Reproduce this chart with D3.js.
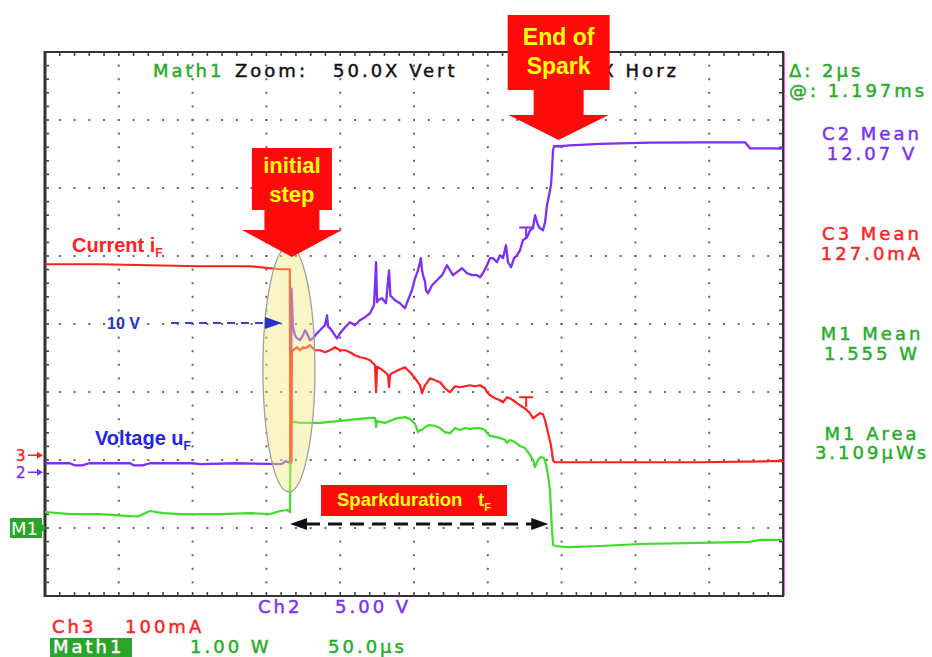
<!DOCTYPE html>
<html>
<head>
<meta charset="utf-8">
<script src="https://cdn.jsdelivr.net/npm/d3@7"></script>
<style>
  body { margin: 0; background: #fff; }
  svg { display: block; }
</style>
</head>
<body>
<svg id="scope" width="932" height="657"></svg>
<script>
// ---- scope settings ----
const timeDomain = [0, 500];        // µs  (10 div x 50 µs)
const divDomain = [-4, 4];          // vertical divisions
const ch2Setting = [5, -2.18];      // V/div, ground offset (div)
const ch3Setting = [100, -1.93];    // mA/div, ground offset (div)
const math1Setting = [20, -3.0];    // mW/div (1.00 W, zoom 50X), ground offset (div)

// ---- traces: [time µs, value] ----
const ch2Voltage = [
  [0,0.66],[16.9,0.66],[20,0.51],[25,0.51],[30,0.66],[57.6,0.66],[60,0.51],[66,0.51],[71,0.66],
  [100,0.66],[105,0.59],[130,0.66],[160,0.59],[163,0.81],[165.3,0.73],[166.6,0.66],[167.0,13.5],
  [168.0,10.66],[169.4,10.07],[170.7,9.85],[172.8,9.71],[174.8,10.07],[176.2,10.44],[177.5,10.22],
  [179.5,9.71],[181.6,9.85],[184.3,10.22],[186.3,10.44],[189.7,10.81],[191.1,11.54],[191.8,10.7],
  [193.1,10.59],[195.1,10.29],[197.8,9.85],[199.9,10.22],[203.3,10.66],[206.6,11.03],[210.0,10.81],
  [213.4,11.18],[216.8,11.40],[220.2,11.69],[222.9,12.28],[224.3,15.44],[225.0,12.5],[225.6,12.65],
  [228.3,12.79],[231.0,12.43],[233.1,14.85],[234.0,13.0],[237.1,12.65],[240.5,12.43],[243.9,12.06],
  [245.9,12.65],[248.6,13.38],[250.7,14.26],[252.7,14.85],[254.7,15.74],[255.4,14.9],[256.1,14.49],
  [257.5,14.0],[258.1,13.38],[259.5,13.16],[262.2,13.75],[265.6,14.12],[269.0,14.49],[272.4,15.22],
  [274.4,14.85],[276.4,14.49],[279.1,14.71],[282.5,15.0],[286.0,14.63],[289.3,14.49],[292.7,14.49],
  [294.7,14.34],[296.7,14.63],[299.5,15.22],[301.5,15.74],[303.5,15.74],[306.2,15.44],[308.3,15.96],
  [310.3,15.74],[312.3,16.69],[313.7,15.44],[315.7,15.07],[317.8,15.74],[319.8,15.96],[321.8,16.32],
  [323.8,17.06],[326.6,17.28],[328.6,17.79],[330.6,17.94],[332.0,18.90],[334.0,18.16],[335.4,17.94],
  [337.4,17.79],[338.8,18.38],[340.1,19.63],[341.5,20.37],[342.8,21.10],[343.5,22.21],[344.2,23.68],
  [344.9,23.97],[348.9,23.97],[355.7,24.04],[376.0,24.15],[409.9,24.23],[443.8,24.26],[474.3,24.26],
  [477.6,23.82],[481.0,23.82],[491.2,23.82],[500,23.79]
];

const ch3Current = [
  [0,280.9],[37.3,280.9],[71.1,279.4],[105,277.9],[138.9,277.9],[152.4,275.0],[159.2,273.5],
  [165.9,273.5],[166.2,-8.8],[167.0,-8.8],[167.3,150],[168.0,154.4],[170.7,158.8],[172.8,154.4],
  [174.8,158.8],[176.2,157.4],[179.5,161.8],[182.9,154.4],[186.3,154.4],[189.7,151.5],[193.1,154.4],
  [196.5,158.8],[199.9,154.4],[203.3,154.4],[206.6,151.5],[210.0,147.1],[213.4,144.1],[216.8,142.6],
  [220.2,139.7],[223.6,132.4],[224.3,92.6],[225.0,130],[227.0,127.9],[230.4,122.1],[232.4,117.6],
  [233.1,100.0],[233.8,118],[235.1,120.6],[239.2,125.0],[243.9,129.4],[247.3,122.1],[250.7,113.2],
  [254.1,102.9],[255.4,91.2],[257.5,102.9],[260.8,113.2],[264.2,110.3],[267.6,107.4],[271.0,98.5],
  [274.4,92.6],[277.8,101.5],[281.2,100.0],[284.6,101.5],[287.9,102.9],[291.3,101.5],[294.7,102.9],
  [298.1,98.5],[299.5,92.6],[301.5,88.2],[304.9,83.8],[308.3,80.9],[310.3,77.9],[313.0,85.3],
  [315.0,83.8],[317.1,80.9],[319.1,77.9],[321.8,73.5],[323.8,70.6],[326.6,66.2],[328.6,61.8],
  [330.6,54.4],[333.3,58.8],[335.4,61.8],[337.4,60.3],[338.8,51.5],[340.1,39.7],[341.5,26.5],
  [342.8,14.7],[344.2,-7.4],[345.5,-10.3],[376,-10.3],[443.8,-10.3],[491.2,-8.8],[500,-8.8]
];

const math1Power = [
  [0,4.7],[16.9,4.1],[37.3,4.1],[57.6,3.5],[63,3.4],[71.1,5.0],[80,4.4],[91.5,4.1],[118.6,4.1],
  [138.9,4.4],[152.4,4.1],[159.2,5.0],[164.0,5.3],[166.0,4.7],[166.6,42.6],[167.6,31.2],[169.4,31.2],
  [172.8,30.9],[179.5,30.9],[186.3,30.9],[193.1,31.2],[199.9,31.5],[206.6,31.8],[213.4,32.1],
  [220.2,32.4],[223.6,32.4],[224.3,29.7],[225.0,31.5],[227.0,31.2],[230.4,30.9],[233.7,31.5],
  [237.1,32.1],[240.5,32.4],[243.9,32.6],[247.3,32.1],[250.7,30.6],[252.7,28.2],[254.1,28.8],
  [255.4,28.8],[257.5,29.7],[260.8,30.3],[264.2,30.0],[267.6,29.4],[271.0,28.2],[274.4,27.9],
  [277.8,29.4],[281.2,28.8],[284.6,29.4],[287.9,29.1],[291.3,29.4],[294.7,29.4],[298.1,28.8],
  [299.5,27.9],[301.5,27.1],[304.9,26.8],[308.3,26.5],[311.7,25.9],[313.0,25.0],[315.0,25.9],
  [318.4,25.3],[321.8,24.1],[325.2,23.5],[328.6,21.5],[330.6,20.0],[332.0,17.9],[334.0,20.0],
  [336.0,20.9],[338.1,20.6],[339.4,18.8],[340.8,15.6],[342.1,11.2],[342.8,5.3],[343.5,-0.6],
  [344.2,-5.0],[346.2,-5.3],[352.3,-5.6],[355.7,-5.6],[376.0,-5.3],[403.1,-4.7],[443.8,-4.4],
  [477.6,-4.1],[484.4,-3.5],[500,-3.5]
];

// cursor "T" marks on the traces: [time µs, value]
const ch2Cursor = [326, 18.0];
const ch3Cursor = [326, 85.3];

// spark events, µs
const stepTime = 167.3;
const endTime = 348;
const durationSpan = [166, 341];

// readouts
const rightLabels = ['C2 Mean', 'C3 Mean', 'M1 Mean', 'M1 Area'];
const rightValues = ['12.07 V', '127.0mA', '1.555 W', '3.109µWs'];
const cursorText = ['Δ: 2µs', '@: 1.197ms'];

// ---- colours ----
const purple = '#7b2ff7', red = '#ff2020', green = '#3fdc2a', textGreen = '#25ad25';
const rightColors = [purple, red, textGreen, textGreen];

const svg = d3.select('#scope');
const pLeft = 45, pTop = 52, pRight = 783, pBottom = 596;

const xScale = d3.scaleLinear().domain(timeDomain).range([pLeft, pRight]);
const yScale = d3.scaleLinear().domain(divDomain).range([pBottom, pTop]);
const xDiv = d3.scaleLinear().domain([0, 10]).range([pLeft, pRight]);

// ---- graticule ----
const grid = svg.append('g').attr('class', 'grid');
const dots = [];
for (let i = 1; i < 10; i++) {
  for (let k = 1; k < 40; k++) dots.push([xDiv(i), yScale(-4 + k / 5)]);
}
for (let j = -3; j <= 3; j++) {
  for (let k = 1; k < 50; k++) dots.push([xDiv(k / 5), yScale(j)]);
}
grid.selectAll('rect.dot').data(dots)
  .enter().append('rect')
    .attr('class', 'dot')
    .attr('x', d => d[0] - 1)
    .attr('y', d => d[1] - 1)
    .attr('width', 2)
    .attr('height', 2)
    .attr('fill', '#666');

// magenta strip on the right border
grid.append('line')
  .attr('x1', pRight + 1).attr('x2', pRight + 1)
  .attr('y1', pTop).attr('y2', pBottom)
  .attr('stroke', '#ff55ee').attr('stroke-width', 2);

// border
grid.append('path')
  .attr('d', `M${pLeft},${pTop}H${pRight}V${pBottom}H${pLeft}Z`)
  .attr('fill', 'none')
  .attr('stroke', '#333')
  .attr('stroke-width', 2);
grid.append('line')
  .attr('x1', pLeft).attr('x2', pLeft).attr('y1', pTop - 1).attr('y2', pBottom + 1)
  .attr('stroke', '#333').attr('stroke-width', 3);

// edge ticks
const ticksY = d3.range(1, 40).map(k => yScale(-4 + k / 5));
const ticksX = d3.range(1, 50).map(k => xDiv(k / 5));
const tickG = grid.append('g').attr('stroke', '#444').attr('stroke-width', 1.6);
ticksY.forEach(y => {
  tickG.append('line').attr('x1', pLeft).attr('x2', pLeft + 4).attr('y1', y).attr('y2', y);
  tickG.append('line').attr('x1', pRight - 4).attr('x2', pRight).attr('y1', y).attr('y2', y);
});
ticksX.forEach(x => {
  tickG.append('line').attr('x1', x).attr('x2', x).attr('y1', pTop).attr('y2', pTop + 4);
  tickG.append('line').attr('x1', x).attr('x2', x).attr('y1', pBottom - 4).attr('y2', pBottom);
});

// ---- traces ----
const lineFor = setting => d3.line()
  .x(d => xScale(d[0]))
  .y(d => yScale(setting[1] + d[1] / setting[0]));

const traces = svg.append('g').attr('class', 'traces').attr('fill', 'none')
  .attr('stroke-linejoin', 'round');
traces.append('path').datum(ch2Voltage)
  .attr('d', lineFor(ch2Setting)).attr('stroke', purple).attr('stroke-width', 2.3);
traces.append('path').datum(math1Power)
  .attr('d', lineFor(math1Setting)).attr('stroke', green).attr('stroke-width', 2.2);
traces.append('path').datum(ch3Current)
  .attr('d', lineFor(ch3Setting)).attr('stroke', red).attr('stroke-width', 2.2);

// small T cursor marks
[[ch2Cursor, ch2Setting, purple], [ch3Cursor, ch3Setting, red]].forEach(([c, s, col]) => {
  const cx = xScale(c[0]), cy = yScale(s[1] + c[1] / s[0]);
  traces.append('path')
    .attr('d', `M${cx - 7},${cy}H${cx + 7}M${cx},${cy}V${cy + 10}`)
    .attr('stroke', col).attr('stroke-width', 2);
});

// ---- scope text ----
const scopeFont = (sel, size, color) => sel
  .attr('font-family', 'DejaVu Sans, sans-serif')
  .attr('font-size', size)
  .attr('stroke', color)
  .attr('stroke-width', 0.45)
  .style('letter-spacing', '3px');

const txt = svg.append('g').attr('class', 'scope-text');
const put = (x, y, s, color, anchor) => txt.append('text')
  .attr('x', x).attr('y', y).attr('fill', color)
  .attr('text-anchor', anchor || 'start')
  .text(s)
  .call(scopeFont, 18, color);

put(153, 77, 'Math1', textGreen);
put(235, 77, 'Zoom:', '#111');
put(333, 77, '50.0X Vert', '#111');
put(679, 77, 'X Horz', '#111', 'end');

cursorText.forEach((s, i) => put(789, 77 + i * 20, s, textGreen));
rightLabels.forEach((s, i) => {
  put(872, 140 + i * 100, s, rightColors[i], 'middle');
  put(872, 160 + i * 100 - (i === 3 ? 1 : 0), rightValues[i], rightColors[i], 'middle');
});

// bottom channel readouts
put(258, 613, 'Ch2', purple);
put(335, 613, '5.00 V', purple);
put(52, 633, 'Ch3', red);
put(125, 633, '100mA', red);
txt.append('rect').attr('x', 50).attr('y', 638).attr('width', 82).attr('height', 19)
  .attr('fill', '#2aa52a');
put(53, 653, 'Math1', '#fff');
put(190, 653, '1.00 W', textGreen);
put(328, 653, '50.0µs', textGreen);

// channel ground markers
const markers = [['3', ch3Setting, red], ['2', ch2Setting, purple]];
markers.forEach(([lab, s, col]) => {
  const y = yScale(s[1]);
  txt.append('text').attr('x', 16).attr('y', y + 5.5).attr('fill', col)
    .attr('font-family', 'DejaVu Sans, sans-serif').attr('font-size', 15)
    .attr('stroke', col).attr('stroke-width', 0.4).text(lab);
  txt.append('path')
    .attr('d', `M28,${y}H39`).attr('stroke', col).attr('stroke-width', 1.5);
  txt.append('path')
    .attr('d', `M37,${y - 3.5}L43,${y}L37,${y + 3.5}Z`).attr('fill', col);
});
{
  const y = yScale(math1Setting[1]);
  txt.append('rect').attr('x', 10).attr('y', y - 10).attr('width', 32).attr('height', 20)
    .attr('fill', '#2aa52a');
  txt.append('path').attr('d', `M42,${y - 4}L46,${y}L42,${y + 4}Z`).attr('fill', '#2aa52a');
  txt.append('text').attr('x', 11).attr('y', y + 7).attr('fill', '#fff')
    .attr('font-family', 'DejaVu Sans, sans-serif').attr('font-size', 18).text('M1');
}

// ---- annotations ----
const ann = svg.append('g').attr('class', 'annotations');
const boldFont = 'Liberation Sans, Arial, sans-serif';

// highlight ellipse over the initial step
ann.append('ellipse')
  .attr('cx', xScale(stepTime) - 3).attr('cy', 369)
  .attr('rx', 26).attr('ry', 123)
  .attr('fill', '#f2e67a').attr('fill-opacity', 0.42)
  .attr('stroke', '#a0a098').attr('stroke-width', 1.3);

// red box + arrow callout
const callout = (tipX, tipY, boxHalf, boxTop, boxBottom, shaftHalf, headBase, headHalf, lines, size, lineGap, firstY) => {
  const d = `M${tipX - boxHalf},${tipY - boxTop}H${tipX + boxHalf}V${tipY - boxBottom}` +
    `H${tipX + shaftHalf}V${tipY - headBase}H${tipX + headHalf}L${tipX},${tipY}` +
    `L${tipX - headHalf},${tipY - headBase}H${tipX - shaftHalf}V${tipY - boxBottom}` +
    `H${tipX - boxHalf}Z`;
  ann.append('path').attr('d', d).attr('fill', '#ff0a0a');
  lines.forEach((s, i) => ann.append('text')
    .attr('x', tipX).attr('y', firstY + i * lineGap)
    .attr('text-anchor', 'middle')
    .attr('font-family', boldFont).attr('font-weight', 'bold')
    .attr('font-size', size).attr('fill', '#ffff10')
    .text(s));
};
callout(xScale(stepTime), 257, 40, 109, 47, 27.5, 27, 50, ['initial', 'step'], 22, 29, 173);
callout(xScale(endTime), 140, 51, 125, 50, 25, 25, 50, ['End of', 'Spark'], 23, 29, 45);

// Current / Voltage labels
const labelSub = (x, y, main, sub, color, size) => {
  const t = ann.append('text').attr('x', x).attr('y', y)
    .attr('font-family', boldFont).attr('font-weight', 'bold')
    .attr('font-size', size).attr('fill', color);
  t.append('tspan').text(main);
  t.append('tspan').attr('dy', 5).attr('font-size', size * 0.6).text(sub);
};
labelSub(72, 252, 'Current i', 'F', red, 20);
labelSub(95, 445, 'Voltage u', 'F', '#2424e8', 20);

// 10 V pointer
const tenY = yScale(0) - 1;
ann.append('text').attr('x', 107).attr('y', tenY + 6)
  .attr('font-family', boldFont).attr('font-weight', 'bold')
  .attr('font-size', 16).attr('fill', '#2233cc').text('10 V');
ann.append('line').attr('x1', 171).attr('x2', 266).attr('y1', tenY).attr('y2', tenY)
  .attr('stroke', '#3344cc').attr('stroke-width', 1.8).attr('stroke-dasharray', '8,6');
ann.append('path').attr('d', `M265,${tenY - 6}L282,${tenY}L265,${tenY + 6}Z`).attr('fill', '#2233cc');

// spark duration
ann.append('rect').attr('x', 321).attr('y', 485).attr('width', 186).attr('height', 31)
  .attr('fill', '#ff0a0a');
const sd = ann.append('text').attr('x', 337).attr('y', 506)
  .attr('font-family', boldFont).attr('font-weight', 'bold')
  .attr('font-size', 18.5).attr('fill', '#ffff10');
sd.append('tspan').text('Sparkduration');
sd.append('tspan').attr('x', 478).text('t');
sd.append('tspan').attr('dy', 5).attr('font-size', 11).text('F');

const durY = 524;
const x0 = xScale(durationSpan[0]), x1 = xScale(durationSpan[1]);
ann.append('line').attr('x1', x0 + 16).attr('x2', x1 - 16).attr('y1', durY).attr('y2', durY)
  .attr('stroke', '#111').attr('stroke-width', 3).attr('stroke-dasharray', '14,8');
ann.append('path').attr('d', `M${x0},${durY}L${x0 + 17},${durY - 6}V${durY + 6}Z`).attr('fill', '#111');
ann.append('path').attr('d', `M${x1},${durY}L${x1 - 17},${durY - 6}V${durY + 6}Z`).attr('fill', '#111');
</script>
</body>
</html>
